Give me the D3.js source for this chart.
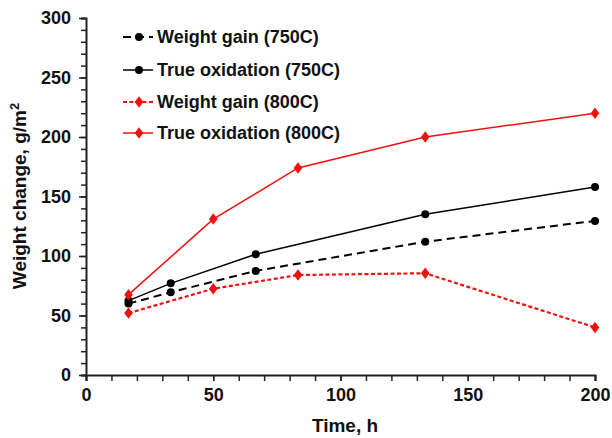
<!DOCTYPE html>
<html><head><meta charset="utf-8">
<script src="https://cdn.jsdelivr.net/npm/d3@7"></script>
<style>body{margin:0;background:#fff}svg{display:block;font-family:"Liberation Sans",Arial,sans-serif}</style>
</head><body>
<svg id="c" width="612" height="438"></svg>
<script>
const seriesNames = ["Weight gain (750C)", "True oxidation (750C)", "Weight gain (800C)", "True oxidation (800C)"];
const timesBlack = [16.7, 33.3, 66.7, 133.3, 200];
const wg750 = [60, 69.5, 87.5, 112, 129.5];
const to750 = [62.5, 77, 101.5, 135, 158];
const timesRed = [16.7, 50, 83.3, 133.3, 200];
const wg800 = [52, 72.5, 84, 85.5, 40];
const to800 = [67.5, 131, 174, 200, 220];
const xTicks = [0, 50, 100, 150, 200];
const yTicks = [0, 50, 100, 150, 200, 250, 300];

const svg = d3.select("#c");
const x = d3.scaleLinear().domain([0, 200]).range([86, 595]);
const y = d3.scaleLinear().domain([0, 300]).range([375, 18]);

const series = [
  {name: seriesNames[0], t: timesBlack, v: wg750, color: "#000", dash: "8,5", w: 2, marker: "circle"},
  {name: seriesNames[1], t: timesBlack, v: to750, color: "#000", dash: null, w: 1.5, marker: "circle"},
  {name: seriesNames[2], t: timesRed, v: wg800, color: "#f01010", dash: "4,2.5", w: 2.2, marker: "diamond"},
  {name: seriesNames[3], t: timesRed, v: to800, color: "#f01010", dash: null, w: 1.5, marker: "diamond"}
];

// axes
svg.append("g").attr("transform", "translate(0,375)")
  .call(d3.axisBottom(x).tickValues(d3.range(0, 201, 10)).tickSize(6).tickFormat(""));
svg.append("g").attr("transform", "translate(86,0)")
  .call(d3.axisLeft(y).tickValues(d3.range(0, 301, 10)).tickSize(5).tickFormat(""));
svg.append("g").attr("transform", "translate(86,0)")
  .call(d3.axisLeft(y).tickValues(yTicks).tickSize(7).tickPadding(8).tickFormat(d3.format("d")))
  .call(g => g.select(".domain").remove());
svg.append("g").attr("transform", "translate(0,375)")
  .call(d3.axisBottom(x).tickValues(xTicks).tickSize(6).tickPadding(7).tickFormat(d3.format("d")))
  .call(g => g.select(".domain").remove());
svg.selectAll(".domain").attr("stroke", "#222").attr("stroke-width", 2);
svg.selectAll(".tick line").attr("stroke", "#222").attr("stroke-width", 1.5);
svg.selectAll(".tick text").attr("font-size", 18).attr("font-weight", "bold")
  .attr("font-family", "Liberation Sans, Arial, sans-serif").attr("fill", "#111");

// axis titles
svg.append("text").attr("x", 345).attr("y", 432).attr("text-anchor", "middle")
  .attr("font-size", 19).attr("font-weight", "bold").attr("fill", "#111").text("Time, h");
const yt = svg.append("text").attr("transform", "translate(26,196) rotate(-90)")
  .attr("text-anchor", "middle").attr("font-size", 19).attr("font-weight", "bold").attr("fill", "#111");
yt.append("tspan").text("Weight change, g/m");
yt.append("tspan").attr("font-size", 13).attr("dy", -7).text("2");

function drawMarker(g, cx, cy, s) {
  if (s.marker === "circle") g.append("circle").attr("cx", cx).attr("cy", cy).attr("r", 4).attr("fill", s.color);
  else g.append("path").attr("d", d3.symbol().type(d3.symbolDiamond).size(38)())
    .attr("transform", `translate(${cx},${cy}) scale(1.3,1)`).attr("fill", s.color);
}

const line = d3.line();
series.forEach(s => {
  const pts = s.t.map((t, i) => [x(t), y(s.v[i])]);
  svg.append("path").attr("d", line(pts)).attr("fill", "none").attr("stroke", s.color)
    .attr("stroke-width", s.w).attr("stroke-dasharray", s.dash);
  const g = svg.append("g");
  pts.forEach(p => drawMarker(g, p[0], p[1], s));
});

// legend
const legY = [37, 70, 102, 133];
series.forEach((s, i) => {
  const g = svg.append("g");
  g.append("line").attr("x1", 123).attr("x2", 153).attr("y1", legY[i]).attr("y2", legY[i])
    .attr("stroke", s.color).attr("stroke-width", s.w).attr("stroke-dasharray", s.dash);
  drawMarker(g, 139, legY[i], s);
  g.append("text").attr("x", 157).attr("y", legY[i] + 6).attr("font-size", 18).attr("font-weight", "bold")
    .attr("fill", "#111").text(s.name);
});
</script>
</body></html>
